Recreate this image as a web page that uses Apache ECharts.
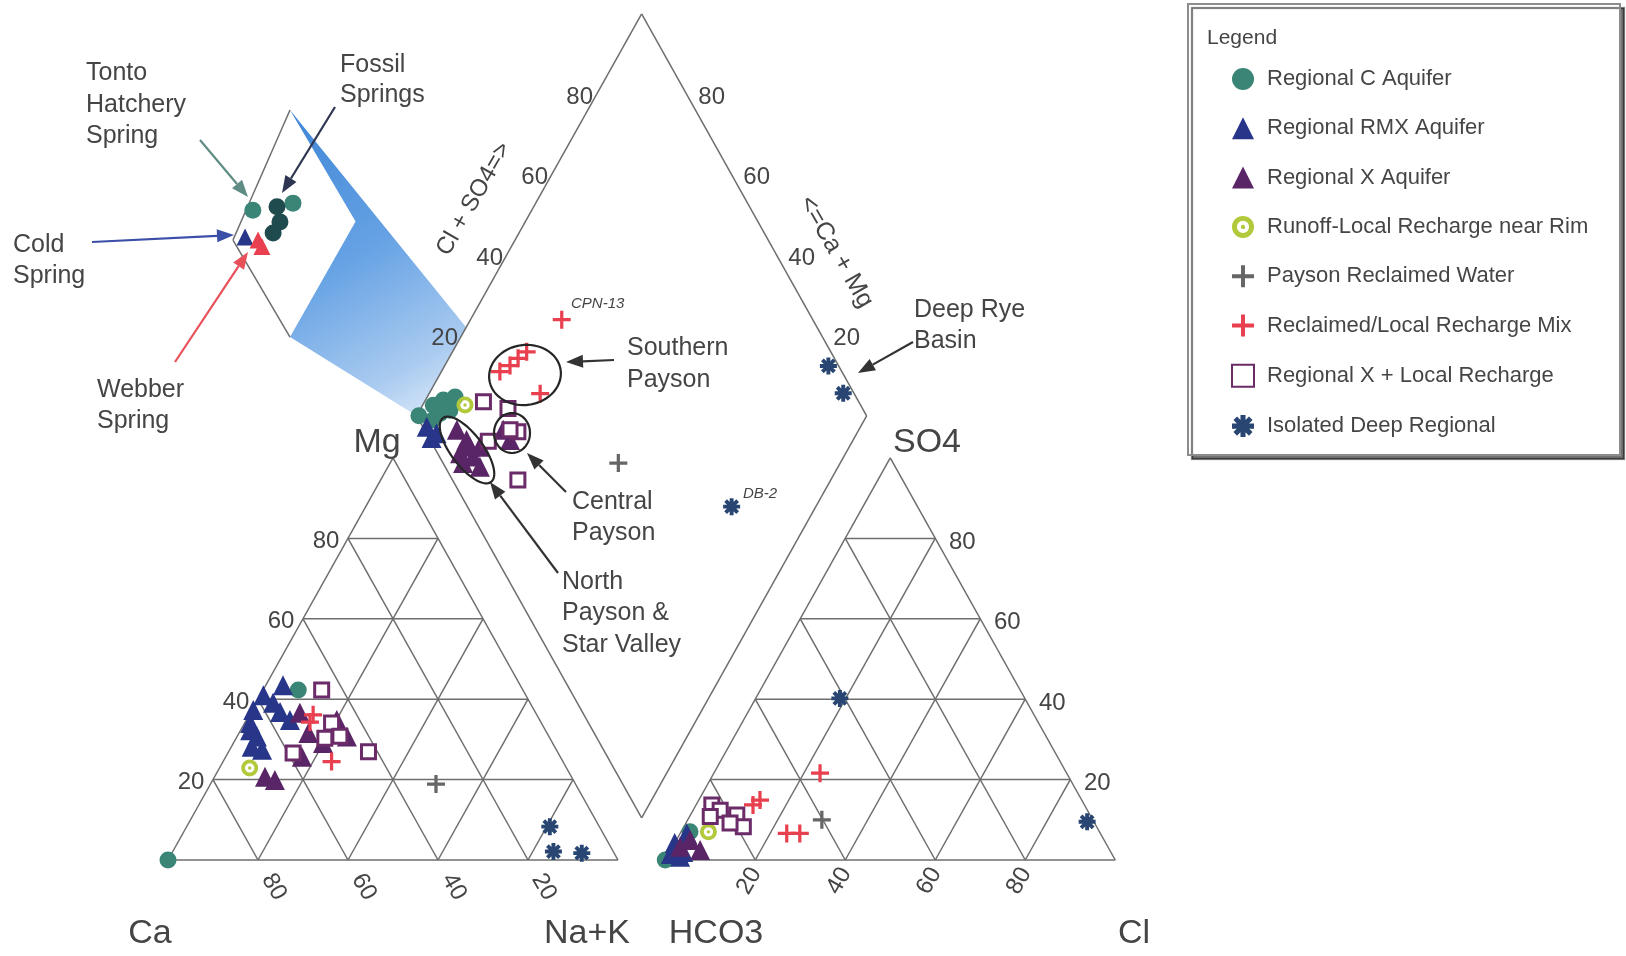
<!DOCTYPE html>
<html>
<head>
<meta charset="utf-8">
<title>Piper diagram</title>
<script src="https://cdn.jsdelivr.net/npm/echarts@6/dist/echarts.min.js"></script>
<style>
html, body { margin: 0; padding: 0; background: #fff; }
#chart { width: 1626px; height: 956px; }
</style>
</head>
<body>
<div id="chart"></div>
<script>
// ---- data ----
// cation triangle: [Ca %, Mg %]  (Na+K = rest)
var catRegionalC = [[100, 0], [49.9, 42.3]];
var catRMX = [[52.7, 43.5], [58.3, 41], [62.4, 37.3], [64.7, 34.1], [57.1, 39.1], [55.5, 34.8],
  [56.7, 36.8], [65.6, 32.3], [67.3, 28.2], [64.9, 30.7], [65.4, 27.4]];
var catX = [[68.1, 20.7], [66.3, 19.9], [57.4, 25.7], [53, 31.6], [45.1, 34.8], [44.9, 30.7], [51, 29.1], [52.4, 36.6]];
var catRunoff = [[70.4, 22.9]];
var catReclaimed = [[31, 18.9]];
var catMix = [[49.7, 36.1], [51.4, 24.5], [51.3, 34.3]];
var catXLocal = [[44.7, 42.3], [58.9, 26.6], [42, 26.9], [46.6, 34.1], [46.4, 30.8], [50, 30.3]];
var catDeep = [[11, 8.3], [13.3, 2.1], [7.2, 1.7]];

// anion triangle: [Cl %, SO4 %]  (HCO3 = rest)
var anRegionalC = [[0, 0], [2, 7]];
var anRMX = [[2.9, 0.8], [0, 4.2], [1.5, 6.6], [3, 2], [0.5, 1.5]];
var anX = [[3, 5], [6.5, 2.5], [1.65, 3.3]];
var anRunoff = [[6.1, 7]];
var anReclaimed = [[29.8, 10]];
var anMix = [[23.6, 21.6], [13.6, 14.9], [12.65, 13.7], [23.7, 6.6], [26.6, 6.6]];
var anXLocal = [[3.5, 13.7], [10.3, 11.2], [13.2, 8.3], [6, 12.4], [9.8, 9.2], [4.6, 10.8]];
var anDeep = [[18.7, 40.2], [89, 9.5]];

// diamond: [Ca+Mg %, Cl+SO4 %]
var diaRegionalC = [[99.5, 0.5], [97.6, 5], [96, 7.9], [93.3, 8.1], [95.8, 3.2], [93.8, 10.9], [95.1, 5.5]];
var diaRMX = [[96.4, 0.9], [93.4, 2.25], [93.9, 0.55]];
var diaX = [[89.3, 7.2], [85.9, 8.1], [85.7, 5], [82.4, 7.5], [79.6, 7.7], [83.8, 4.45], [84.3, 8], [82.1, 10.2], [79, 17.5], [76.25, 17.75]];
var diaRunoff = [[90.6, 12.1]];
var diaReclaimed = [[49.3, 38.95]];
var diaMix = [[87, 24], [85.5, 27], [84.6, 29.7], [83.5, 32.4], [75.3, 30.2], [79.7, 44.2]];
var diaXLocal = [[86.9, 16.6], [80.9, 12.75], [69.5, 14.5], [80.6, 21.2], [75.5, 20.5], [77.5, 19]];
var diaDeep = [[14.7, 97.7], [8, 97.6], [18.7, 58.7]];

// magnified corner of the diamond (inset): [Ca+Mg %, Cl+SO4 %]
var insetTonto = [[98.3, 7.0], [89, 15.3]];
var insetFossil = [[92.6, 11.9], [90.2, 10.8], [90.7, 8.3]];
var insetCold = [[97.3, 2.6]];
var insetWebber = [[93.7, 4.7], [92, 4.7]];

var TICKS = [20, 40, 60, 80];

// ---- layout ----
var ORIGIN = [168, 860], PX_X = 4.5, PX_Y = 4.642;   // pixels per unit (triangle side = 100)
var GAP = 10.5, H = Math.sqrt(3) / 2;
var INSET = { o: [14.444, 133.56], a: [12.667, 28.005], b: [12.667, -20.896], span: 25 };

function cat(p) { var ca = p[0], mg = p[1], nak = 100 - ca - mg; return [nak + mg / 2, mg * H]; }
function an(p) { var cl = p[0], so4 = p[1]; return [100 + GAP + cl + so4 / 2, so4 * H]; }
function dia(p) { var camg = p[0], cs = p[1]; return [100 + GAP / 2 + (cs - camg) / 2, GAP * H + (camg + cs) * H]; }
function inset(p, stretch) {
  var u = p[1] / INSET.span, v = (100 - p[0]) / INSET.span * (stretch || 1);
  return [INSET.o[0] + u * INSET.a[0] + v * INSET.b[0], INSET.o[1] + u * INSET.a[1] + v * INSET.b[1]];
}

// frame segments
var segs = [];
function seg(p, q) { segs.push([p[0], p[1], q[0], q[1]]); }
seg(cat([100, 0]), cat([0, 0])); seg(cat([0, 0]), cat([0, 100])); seg(cat([0, 100]), cat([100, 0]));
seg(an([0, 0]), an([100, 0])); seg(an([100, 0]), an([0, 100])); seg(an([0, 100]), an([0, 0]));
seg(dia([0, 0]), dia([100, 0])); seg(dia([100, 0]), dia([100, 100]));
seg(dia([100, 100]), dia([0, 100])); seg(dia([0, 100]), dia([0, 0]));
TICKS.forEach(function (t) {
  seg(cat([100 - t, t]), cat([0, t]));
  seg(cat([t, 0]), cat([t, 100 - t]));
  seg(cat([100 - t, 0]), cat([0, 100 - t]));
  seg(an([0, t]), an([100 - t, t]));
  seg(an([t, 0]), an([t, 100 - t]));
  seg(an([100 - t, 0]), an([0, 100 - t]));
});
seg(inset([100, 25]), inset([100, 0]));
seg(inset([100, 0]), inset([75, 0]));

// blue zoom band from the diamond corner to the inset
var band = [inset([100, 25]), dia([100, 22]), dia([100, 0]), inset([75, 0]), inset([75, 25], 1.15)];

var tickLabels = [];
TICKS.forEach(function (t) {
  tickLabels.push({ at: cat([100 - t, t]), dx: -22, dy: 3, rot: 0, text: t });
  tickLabels.push({ at: cat([t, 0]), dx: 16, dy: 27, rot: -60, text: t });
  tickLabels.push({ at: an([t, 0]), dx: -6, dy: 21, rot: 60, text: t });
  tickLabels.push({ at: an([100 - t, t]), dx: 27, dy: 4, rot: 0, text: t });
  tickLabels.push({ at: dia([100, t]), dx: -17, dy: 3, rot: 0, text: t });
  tickLabels.push({ at: dia([t, 100]), dx: 25, dy: 3, rot: 0, text: t });
});

// ---- symbols ----
var PLUS = 'path://M4.1,0H5.9V4.1H10V5.9H5.9V10H4.1V5.9H0V4.1H4.1Z';
var RING = 'path://M10,0A10,10,0,1,1,10,20A10,10,0,1,1,10,0Z M10,4.5A5.5,5.5,0,1,0,10,15.5A5.5,5.5,0,1,0,10,4.5Z M10,8A2,2,0,1,1,10,12A2,2,0,1,1,10,8Z';
function starPath() {
  var s = 'path://';
  [0, 45, 90, 135].forEach(function (deg) {
    var r = deg * Math.PI / 180, c = Math.cos(r), n = Math.sin(r), L = 10, T = 2.3;
    var pts = [[10 + L * c - T * n, 10 + L * n + T * c], [10 + L * c + T * n, 10 + L * n - T * c],
      [10 - L * c + T * n, 10 - L * n - T * c], [10 - L * c - T * n, 10 - L * n + T * c]];
    s += 'M' + pts.map(function (p) { return p[0].toFixed(2) + ',' + p[1].toFixed(2); }).join('L') + 'Z';
  });
  return s;
}
var STAR = starPath();

var FONT = '"Liberation Sans", Arial, sans-serif';
var TXT = '#454545';

function pts(c, a, d) {
  return c.map(cat).concat(a.map(an), d.map(dia));
}
function scatter(name, data, symbol, size, itemStyle) {
  itemStyle.opacity = 1;
  return { name: name, type: 'scatter', data: data, symbol: symbol, symbolSize: size,
    itemStyle: itemStyle, z: 5, silent: true };
}

var legendNames = ['Regional C Aquifer', 'Regional RMX Aquifer', 'Regional X Aquifer',
  'Runoff-Local Recharge near Rim', 'Payson Reclaimed Water', 'Reclaimed/Local Recharge Mix',
  'Regional X + Local Recharge', 'Isolated Deep Regional'];

var series = [
  {
    type: 'custom', silent: true, z: 1, clip: false,
    data: [band[0]],
    renderItem: function (params, api) {
      return { type: 'polygon', shape: { points: band.map(function (p) { return api.coord(p); }) },
        style: { fill: { type: 'linear', x: 0, y: 0, x2: 1, y2: 1, colorStops: [
          { offset: 0, color: '#3f86d6' }, { offset: 0.45, color: '#66a2e4' },
          { offset: 0.8, color: '#aacbf0' }, { offset: 1, color: '#e6f0fb' }] } } };
    }
  },
  {
    type: 'custom', silent: true, z: 2, clip: false,
    data: segs,
    renderItem: function (params, api) {
      var p = api.coord([api.value(0), api.value(1)]), q = api.coord([api.value(2), api.value(3)]);
      return { type: 'line', shape: { x1: p[0], y1: p[1], x2: q[0], y2: q[1] },
        style: { stroke: '#6e6e6e', lineWidth: 1.5 } };
    }
  },
  {
    type: 'custom', silent: true, z: 3, clip: false,
    data: tickLabels.map(function (l) { return l.at; }),
    renderItem: function (params, api) {
      var l = tickLabels[params.dataIndex], p = api.coord(l.at);
      return { type: 'text', x: p[0] + l.dx, y: p[1] + l.dy, rotation: l.rot * Math.PI / 180,
        style: { text: String(l.text), fill: TXT, font: '24px ' + FONT,
          textAlign: 'center', textVerticalAlign: 'middle', align: 'center', verticalAlign: 'middle' } };
    }
  },
  scatter(legendNames[0], pts(catRegionalC, anRegionalC, diaRegionalC), 'circle', 17, { color: '#3b8576' }),
  scatter(legendNames[1], pts(catRMX, anRMX, diaRMX), 'triangle', 20, { color: '#28368a' }),
  scatter(legendNames[2], pts(catX, anX, diaX), 'triangle', 20, { color: '#5a2566' }),
  scatter(legendNames[3], pts(catRunoff, anRunoff, diaRunoff), RING, 17, { color: '#b3c93c' }),
  scatter(legendNames[4], pts(catReclaimed, anReclaimed, diaReclaimed), PLUS, 18, { color: '#666666' }),
  scatter(legendNames[5], pts(catMix, anMix, diaMix), PLUS, 18, { color: '#e8404f' }),
  scatter(legendNames[6], pts(catXLocal, anXLocal, diaXLocal), 'rect', 14,
    { color: '#ffffff', borderColor: '#6a2b68', borderWidth: 3 }),
  scatter(legendNames[7], pts(catDeep, anDeep, diaDeep), STAR, 17, { color: '#294673' }),
  scatter('Tonto Hatchery Spring', insetTonto.map(function (p) { return inset(p); }), 'circle', 17, { color: '#3b8576' }),
  scatter('Fossil Springs', insetFossil.map(function (p) { return inset(p); }), 'circle', 17, { color: '#1f4a4e' }),
  scatter('Cold Spring', insetCold.map(function (p) { return inset(p); }), 'triangle', 17, { color: '#28368a' }),
  scatter('Webber Spring', insetWebber.map(function (p) { return inset(p); }), 'triangle', 17, { color: '#e8404f' })
];

// ---- callouts ----
function text(str, x, y, opt) {
  opt = opt || {};
  return { type: 'text', x: x, y: y, rotation: (opt.rot || 0) * Math.PI / 180, z: 100, silent: true,
    style: { text: str, fill: opt.color || TXT,
      font: (opt.italic ? 'italic ' : '') + (opt.size || 25) + 'px ' + FONT,
      textAlign: opt.align || 'left', align: opt.align || 'left',
      textVerticalAlign: 'middle', verticalAlign: 'middle' } };
}
function arrow(x1, y1, x2, y2, color) {
  var ang = Math.atan2(y2 - y1, x2 - x1), L = 17, W = 6.5;
  var bx = x2 - L * Math.cos(ang), by = y2 - L * Math.sin(ang);
  var nx = -Math.sin(ang) * W, ny = Math.cos(ang) * W;
  return [
    { type: 'line', z: 100, silent: true, shape: { x1: x1, y1: y1, x2: bx, y2: by },
      style: { stroke: color, lineWidth: 2.2 } },
    { type: 'polygon', z: 100, silent: true, shape: { points: [[x2, y2], [bx + nx, by + ny], [bx - nx, by - ny]] },
      style: { fill: color } }
  ];
}
function ellipse(cx, cy, rx, ry, deg) {
  var r = deg * Math.PI / 180, p = [];
  for (var i = 0; i < 72; i++) {
    var t = i / 72 * 2 * Math.PI, ex = rx * Math.cos(t), ey = ry * Math.sin(t);
    p.push([cx + ex * Math.cos(r) - ey * Math.sin(r), cy + ex * Math.sin(r) + ey * Math.cos(r)]);
  }
  return { type: 'polygon', z: 100, silent: true, shape: { points: p },
    style: { fill: 'none', stroke: '#262626', lineWidth: 2.2 } };
}

var graphics = [
  { type: 'rect', z: 1, silent: true, shape: { x: 1188, y: 4, width: 432, height: 451 },
    style: { fill: '#fff', stroke: '#8c8c8c', lineWidth: 2,
      shadowColor: 'rgba(0,0,0,0.55)', shadowOffsetX: 4, shadowOffsetY: 4, shadowBlur: 1 } },
  text('Legend', 1207, 38, { size: 21 }),

  text('Mg', 377, 443, { size: 34, align: 'center' }),
  text('SO4', 927, 443, { size: 34, align: 'center' }),
  text('Ca', 150, 934, { size: 34, align: 'center' }),
  text('Na+K', 587, 934, { size: 34, align: 'center' }),
  text('HCO3', 716, 934, { size: 34, align: 'center' }),
  text('Cl', 1134, 934, { size: 34, align: 'center' }),
  text('Cl + SO4=>', 474, 199, { size: 24, align: 'center', rot: 60 }),
  text('<=Ca + Mg', 836, 252, { size: 25, align: 'center', rot: -60 }),

  text('Tonto', 86, 73), text('Hatchery', 86, 105), text('Spring', 86, 136),
  text('Fossil', 340, 65), text('Springs', 340, 95),
  text('Cold', 13, 245), text('Spring', 13, 276),
  text('Webber', 97, 390), text('Spring', 97, 421),
  text('Southern', 627, 348), text('Payson', 627, 380),
  text('Central', 572, 502), text('Payson', 572, 533),
  text('North', 562, 582), text('Payson &', 562, 613), text('Star Valley', 562, 645),
  text('Deep Rye', 914, 310), text('Basin', 914, 341),
  text('CPN-13', 571, 304, { size: 15, italic: true }),
  text('DB-2', 743, 494, { size: 15, italic: true }),

  ellipse(525, 375, 36, 30, -8),
  ellipse(512, 433, 18, 20, 0),
  ellipse(467, 450, 40, 16, 53)
].concat(
  arrow(200, 140, 248, 197, '#5f8c84'),
  arrow(335, 107, 282, 193, '#2d3550'),
  arrow(92, 242, 234, 235, '#3b4ea8'),
  arrow(175, 362, 248, 252, '#e8505a'),
  arrow(614, 360, 566, 362, '#333'),
  arrow(566, 492, 527, 453, '#333'),
  arrow(558, 573, 490, 482, '#333'),
  arrow(913, 342, 858, 373, '#333')
);

var chart = echarts.init(document.getElementById('chart'));
chart.setOption({
  animation: false,
  backgroundColor: '#ffffff',
  grid: { left: 0, right: 0, top: 0, bottom: 0 },
  xAxis: { type: 'value', show: false, min: -ORIGIN[0] / PX_X, max: (1626 - ORIGIN[0]) / PX_X },
  yAxis: { type: 'value', show: false, min: -(956 - ORIGIN[1]) / PX_Y, max: ORIGIN[1] / PX_Y },
  legend: {
    data: legendNames, orient: 'vertical', left: 1226, top: 63, z: 10,
    itemWidth: 22, itemHeight: 22, itemGap: 27.3, selectedMode: false,
    itemStyle: { opacity: 1 },
    textStyle: { fontSize: 22, color: TXT, fontFamily: FONT, padding: [0, 0, 0, 8] }
  },
  graphic: { elements: graphics },
  series: series
});
</script>
</body>
</html>
